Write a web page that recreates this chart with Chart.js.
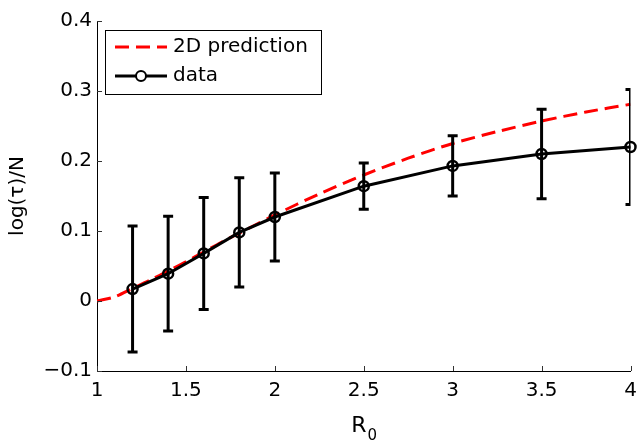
<!DOCTYPE html>
<html>
<head>
<meta charset="utf-8">
<script src="https://cdn.jsdelivr.net/npm/chart.js@4"></script>
<style>
  body { margin: 0; background: #fff; }
</style>
</head>
<body>
<canvas id="chart" width="638" height="440"></canvas>
<script>
// measured data: R0 vs log(tau)/N with error bars
const r0Values = [1.2, 1.4, 1.6, 1.8, 2, 2.5, 3, 3.5, 4];
const tauMean = [0.017, 0.039, 0.068, 0.098, 0.120, 0.164, 0.193, 0.210, 0.220];
const tauErr = [0.090, 0.082, 0.080, 0.078, 0.063, 0.033, 0.043, 0.064, 0.082];

// 2D prediction curve
const predR0 = [1, 1.1, 1.2, 1.3, 1.4, 1.5, 1.6, 1.7, 1.8, 1.9, 2, 2.25, 2.5, 2.75, 3, 3.25, 3.5, 3.75, 4];
const predTau = [0, 0.006, 0.018, 0.030, 0.043, 0.056, 0.070, 0.084, 0.097, 0.110, 0.123, 0.153, 0.180, 0.204, 0.225, 0.242, 0.257, 0.270, 0.281];

const xTicks = [1, 1.5, 2, 2.5, 3, 3.5, 4];
const yTicks = [-0.1, 0, 0.1, 0.2, 0.3, 0.4];
const legendLabels = ['2D prediction', 'data'];

const FONT = 'DejaVu Sans';

// error bars, inward ticks, axis titles and legend
const extras = {
    id: 'extras',
    afterDatasetsDraw(chart) {
        const ctx = chart.ctx;
        const x = chart.scales.x, y = chart.scales.y;
        const area = chart.chartArea;
        ctx.save();
        ctx.beginPath();
        ctx.rect(area.left, 0, area.right - area.left, chart.height);
        ctx.clip();
        ctx.strokeStyle = '#000';
        ctx.lineWidth = 3;
        r0Values.forEach((r, i) => {
            const px = x.getPixelForValue(r);
            const top = y.getPixelForValue(tauMean[i] + tauErr[i]);
            const bot = y.getPixelForValue(tauMean[i] - tauErr[i]);
            ctx.beginPath();
            ctx.moveTo(px, top); ctx.lineTo(px, bot);
            ctx.moveTo(px - 5, top); ctx.lineTo(px + 5, top);
            ctx.moveTo(px - 5, bot); ctx.lineTo(px + 5, bot);
            ctx.stroke();
        });
        ctx.restore();
    },
    afterDraw(chart) {
        const ctx = chart.ctx;
        const x = chart.scales.x, y = chart.scales.y;
        const area = chart.chartArea;
        ctx.save();
        // inward tick marks
        ctx.strokeStyle = '#333';
        ctx.lineWidth = 1;
        ctx.beginPath();
        xTicks.forEach(t => {
            const px = Math.round(x.getPixelForValue(t)) + 0.5;
            ctx.moveTo(px, area.bottom); ctx.lineTo(px, area.bottom - 5);
        });
        yTicks.forEach(t => {
            const py = Math.round(y.getPixelForValue(t)) + 0.5;
            ctx.moveTo(area.left, py); ctx.lineTo(area.left + 5, py);
        });
        ctx.stroke();

        // axis titles
        ctx.fillStyle = '#000';
        ctx.font = '22px "' + FONT + '"';
        ctx.textBaseline = 'alphabetic';
        ctx.textAlign = 'left';
        const rw = ctx.measureText('R').width;
        ctx.font = '15px "' + FONT + '"';
        const sw = ctx.measureText('0').width;
        const cx = (area.left + area.right) / 2;
        const startX = cx - (rw + sw) / 2;
        ctx.font = '22px "' + FONT + '"';
        ctx.fillText('R', startX, 432);
        ctx.font = '15px "' + FONT + '"';
        ctx.fillText('0', startX + rw + 1, 440);

        ctx.save();
        ctx.translate(18, (area.top + area.bottom) / 2);
        ctx.rotate(-Math.PI / 2);
        ctx.font = '20px "' + FONT + '"';
        ctx.textAlign = 'center';
        ctx.textBaseline = 'middle';
        ctx.fillText('log(τ)/N', 0, 0);
        ctx.restore();

        // legend box
        const lx = 105, ly = 30, lw = 216, lh = 64;
        ctx.fillStyle = '#fff';
        ctx.fillRect(lx, ly, lw, lh);
        ctx.strokeStyle = '#000';
        ctx.lineWidth = 1;
        ctx.strokeRect(lx + 0.5, ly + 0.5, lw, lh);

        ctx.lineWidth = 3;
        ctx.strokeStyle = '#ff0000';
        ctx.setLineDash([14, 7]);
        ctx.beginPath();
        ctx.moveTo(115, 47); ctx.lineTo(167, 47);
        ctx.stroke();
        ctx.setLineDash([]);

        ctx.strokeStyle = '#000';
        ctx.beginPath();
        ctx.moveTo(115, 76); ctx.lineTo(167, 76);
        ctx.stroke();
        ctx.lineWidth = 2;
        ctx.beginPath();
        ctx.arc(141, 76, 5, 0, Math.PI * 2);
        ctx.fillStyle = '#fff';
        ctx.fill();
        ctx.stroke();

        ctx.fillStyle = '#000';
        ctx.font = '20px "' + FONT + '"';
        ctx.textAlign = 'left';
        ctx.textBaseline = 'middle';
        ctx.fillText(legendLabels[0], 173, 47);
        ctx.fillText(legendLabels[1], 173, 76);
        ctx.restore();
    }
};

function fmtY(v) {
    const r = Math.round(v * 10) / 10;
    if (Math.abs(r) < 1e-9) return '0';
    return (r < 0 ? '\u2212' : '') + Math.abs(r).toFixed(1);
}

new Chart(document.getElementById('chart').getContext('2d'), {
    type: 'line',
    data: {
        datasets: [{
            label: legendLabels[0],
            data: predR0.map((r, i) => ({ x: r, y: predTau[i] })),
            borderColor: '#ff0000',
            borderWidth: 3,
            borderDash: [14, 7],
            pointRadius: 0,
            tension: 0.3,
            fill: false,
            order: 1
        }, {
            label: legendLabels[1],
            data: r0Values.map((r, i) => ({ x: r, y: tauMean[i] })),
            borderColor: '#000',
            borderWidth: 3,
            pointStyle: 'circle',
            pointRadius: 5,
            pointBorderWidth: 2.5,
            pointBorderColor: '#000',
            pointBackgroundColor: 'rgba(0,0,0,0)',
            tension: 0,
            fill: false,
            clip: false,
            order: 0
        }]
    },
    options: {
        responsive: false,
        animation: false,
        devicePixelRatio: 1,
        layout: { padding: { top: 21, right: 6, left: 0, bottom: 0 } },
        plugins: {
            legend: { display: false },
            tooltip: { enabled: false }
        },
        scales: {
            x: {
                type: 'linear',
                min: 1,
                max: 4,
                afterBuildTicks: s => { s.ticks = xTicks.map(v => ({ value: v })); },
                afterFit: s => { s.height = 69; s.paddingLeft = 0; s.paddingRight = 0; },
                grid: { display: false, drawTicks: false },
                border: { display: true, color: '#000', width: 1 },
                ticks: {
                    color: '#000',
                    padding: 8,
                    maxRotation: 0,
                    font: { family: FONT, size: 20 },
                    callback: v => String(Math.round(v * 10) / 10)
                }
            },
            y: {
                type: 'linear',
                min: -0.1,
                max: 0.4,
                afterBuildTicks: s => { s.ticks = yTicks.map(v => ({ value: v })); },
                afterFit: s => { s.width = 97; s.paddingTop = 0; s.paddingBottom = 0; },
                grid: { display: false, drawTicks: false },
                border: { display: true, color: '#000', width: 1 },
                ticks: {
                    color: '#000',
                    padding: 5,
                    font: { family: FONT, size: 20 },
                    callback: fmtY
                }
            }
        }
    },
    plugins: [extras]
});
</script>
</body>
</html>
